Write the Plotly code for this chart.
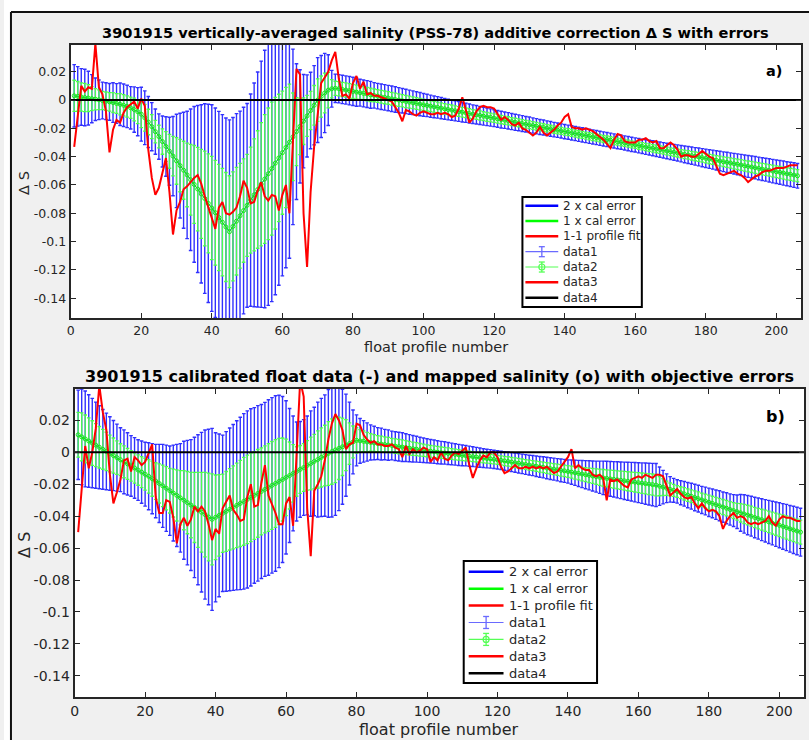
import plotly.graph_objects as go

W, H = 809, 740

profiles = list(range(1, 207))

# ---------------- panel a: vertically-averaged additive correction (1e-3 PSS-78) ----------------
fit_a = [
    3.0, 2.6, 2.2, 1.8, 1.4, 1.0, 0.6, 0.2, -0.3, -0.8,
    -1.3, -1.8, -2.4, -3.0, -3.7, -4.5, -5.5, -6.7, -8.2, -10.0,
    -12.5, -15.5, -18.8, -22.3, -25.8, -29.3, -32.8, -36.2, -39.6, -43.0,
    -46.3, -49.6, -52.9, -56.3, -59.6, -62.9, -66.3, -69.6, -73.0, -76.3,
    -79.6, -83.0, -86.3, -89.7, -93.0, -89.3, -85.6, -81.8, -78.1, -74.4,
    -70.7, -67.0, -63.2, -59.5, -55.8, -52.1, -48.4, -44.6, -40.9, -37.2,
    -33.5, -29.8, -26.0, -22.3, -18.6, -14.9, -11.2, -7.4, -3.7, 0.0,
    2.5, 5.0, 7.0, 8.0, 8.3, 8.0, 7.5, 7.1, 6.6, 6.1,
    5.6, 5.2, 4.7, 4.2, 3.7, 3.3, 2.8, 2.3, 1.9, 1.4,
    0.9, 0.4, 0.0, -0.5, -1.0, -1.5, -1.9, -2.4, -2.9, -3.4,
    -3.8, -4.3, -4.8, -5.2, -5.7, -6.2, -6.7, -7.1, -7.6, -8.1,
    -8.6, -9.0, -9.5, -10.0, -10.4, -10.9, -11.4, -11.9, -12.3, -12.8,
    -13.3, -13.8, -14.2, -14.7, -15.2, -15.7, -16.1, -16.6, -17.1, -17.5,
    -18.0, -18.5, -19.0, -19.4, -19.9, -20.4, -20.9, -21.3, -21.8, -22.3,
    -22.7, -23.2, -23.7, -24.2, -24.6, -25.1, -25.6, -26.1, -26.5, -27.0,
    -27.5, -27.9, -28.4, -28.9, -29.4, -29.8, -30.3, -30.8, -31.3, -31.7,
    -32.2, -32.7, -33.2, -33.6, -34.1, -34.6, -35.0, -35.5, -36.0, -36.5,
    -36.9, -37.4, -37.9, -38.4, -38.8, -39.3, -39.8, -40.2, -40.7, -41.2,
    -41.7, -42.1, -42.6, -43.1, -43.6, -44.0, -44.5, -45.0, -45.4, -45.9,
    -46.4, -46.9, -47.3, -47.8, -48.3, -48.8, -49.2, -49.7, -50.2, -50.7,
    -51.1, -51.6, -52.1, -52.5, -53.0, -53.5,
]
two_sigma_a = [
    22, 21, 20, 20, 19, 17, 15, 14, 13, 13,
    13, 14, 14, 15, 15, 15, 15, 16, 17, 19,
    19, 18, 17, 16, 16, 18, 21, 24, 28, 33,
    37, 41, 45, 50, 55, 59, 63, 67, 70, 73,
    74, 75, 76, 77, 79, 77, 76, 74, 73, 72,
    75, 79, 83, 87, 91, 93, 94, 93, 90, 87,
    85, 82, 62, 48, 40, 33, 29, 27, 28, 30,
    29, 28, 25, 13, 10, 10, 10, 10, 10, 10,
    10, 9.5, 9.5, 9.5, 9.5, 9, 9, 9, 9, 9,
    9, 9, 8.8, 8.7, 8.6, 8.5, 8.4, 8.3, 8.2, 8.0,
    7.9, 7.8, 7.7, 7.6, 7.5, 7.4, 7.3, 7.2, 7.1, 7.0,
    6.9, 6.8, 6.7, 6.6, 6.5, 6.4, 6.3, 6.2, 6.1, 6.0,
    5.9, 5.9, 5.8, 5.8, 5.7, 5.7, 5.6, 5.6, 5.5, 5.5,
    5.4, 5.4, 5.3, 5.3, 5.2, 5.2, 5.1, 5.1, 5.0, 5.0,
    5.0, 5.0, 5.0, 5.0, 5.0, 5.0, 5.0, 5.0, 5.0, 5.0,
    5.0, 5.0, 5.0, 5.0, 5.0, 5.0, 5.0, 5.0, 5.0, 5.0,
    5.1, 5.1, 5.2, 5.2, 5.3, 5.3, 5.4, 5.4, 5.5, 5.5,
    5.6, 5.7, 5.8, 5.9, 6.0, 6.1, 6.2, 6.3, 6.4, 6.5,
    6.6, 6.7, 6.8, 6.9, 7.0, 7.1, 7.2, 7.3, 7.4, 7.5,
    7.6, 7.7, 7.8, 7.9, 8.0, 8.0, 8.1, 8.2, 8.3, 8.3,
    8.4, 8.5, 8.5, 8.6, 8.7, 8.7,
]
profile_fit_a = [
    -33, -10, 10, 6, 9, 8, 40, 9, 4, -8,
    -37, -21, -14, -16, -9, -5, -3, -1, -6, 1,
    -4, -35, -55, -67, -62, -51, -41, -65, -95, -78,
    -72, -63, -61, -58, -55, -53, -59, -68, -76, -83,
    -91, -76, -72, -80, -81, -79, -76, -68, -57, -62,
    -73, -72, -64, -58, -68, -71, -67, -68, -78, -67,
    -60, -80, -25, 22, 18, -80, -118, -65, -33, -8,
    12, 16, 20, 28, 34, 15, 3, 4, 1, 12,
    17, 8, 13, 4, 5, 3, 3, 2, 1, 0,
    -1, -5, -9, -15, -7, -8, -10, -11, -9, -8,
    -9, -10, -10, -9, -10, -9, -10, -12, -11, -6,
    2, -8, -16, -13, -8, -5, -4, -5, -5, -6,
    -10, -14, -12, -14, -17, -18, -16, -20, -21, -23,
    -25, -23, -19, -23, -25, -23, -21, -18, -16, -12,
    -10, -19, -20, -20, -21, -20, -21, -22, -24, -26,
    -28, -31, -34, -28, -24, -25, -29, -30, -30, -30,
    -28, -28, -27, -29, -30, -29, -34, -34, -32, -30,
    -32, -35, -40, -39, -39, -40, -40, -38, -36, -38,
    -40, -41, -47, -52, -53, -52, -51, -50, -52, -53,
    -55, -58, -56, -54, -53, -51, -50, -50, -49, -48,
    -48, -48, -47, -46, -46, -46,
]

# ---------------- panel b: calibrated float data and mapped salinity (1e-3 PSS-78) ----------------
fit_b = [
    11.0, 9.7, 8.4, 7.1, 5.8, 4.5, 3.2, 1.9, 0.6, -0.7,
    -2.0, -3.3, -4.6, -5.9, -7.2, -8.5, -9.8, -11.1, -12.4, -13.7,
    -15.0, -16.5, -18.0, -19.5, -21.0, -22.5, -24.0, -25.5, -27.0, -28.5,
    -30.0, -31.5, -33.0, -34.5, -36.0, -37.5, -39.0, -40.5, -42.0, -40.7,
    -39.5, -38.2, -37.0, -35.7, -34.5, -33.2, -32.0, -30.7, -29.5, -28.2,
    -27.0, -25.7, -24.5, -23.2, -22.0, -20.7, -19.5, -18.2, -17.0, -15.7,
    -14.5, -13.2, -12.0, -10.7, -9.5, -8.2, -7.0, -5.7, -4.5, -3.2,
    -2.0, -0.7, 0.5, 1.5, 2.5, 3.5, 4.5, 5.5, 6.5, 7.5,
    7.2, 6.9, 6.5, 6.2, 5.9, 5.5, 5.2, 4.9, 4.6, 4.3,
    3.9, 3.6, 3.3, 3.0, 2.6, 2.3, 2.0, 1.6, 1.3, 1.0,
    0.7, 0.4, 0.1, -0.2, -0.4, -0.7, -1.0, -1.3, -1.6, -1.9,
    -2.1, -2.4, -2.7, -3.0, -3.3, -3.6, -3.9, -4.1, -4.4, -4.7,
    -5.0, -5.4, -5.7, -6.1, -6.5, -6.8, -7.2, -7.6, -8.0, -8.3,
    -8.7, -9.1, -9.4, -9.8, -10.2, -10.5, -10.9, -11.3, -11.6, -12.0,
    -12.4, -12.8, -13.2, -13.6, -14.0, -14.4, -14.8, -15.2, -15.6, -16.0,
    -16.3, -16.6, -16.9, -17.2, -17.5, -17.8, -18.1, -18.4, -18.7, -19.0,
    -19.3, -19.6, -19.9, -20.2, -20.5, -21.2, -21.8, -22.5, -23.2, -23.8,
    -24.5, -25.3, -26.0, -26.8, -27.5, -28.3, -29.0, -29.8, -30.5, -31.3,
    -32.0, -32.8, -33.5, -34.3, -35.0, -35.8, -36.5, -37.2, -37.9, -38.6,
    -39.3, -40.0, -40.8, -41.5, -42.2, -42.9, -43.6, -44.3, -45.0, -45.7,
    -46.4, -47.1, -47.9, -48.6, -49.3, -50.0,
]
two_sigma_b = [
    28, 30, 30, 29, 28, 27, 26, 25, 24, 23,
    22, 21, 20, 20, 19.5, 19, 19, 19, 19.5, 20,
    21, 22, 23, 24.5, 26, 27, 28, 30, 32, 34,
    37, 39, 41, 44, 47, 50, 53, 55, 57, 53,
    51, 49, 50, 51, 52, 53, 54, 55, 55.5, 55.5,
    55, 55, 54.5, 54.5, 55, 55, 55, 54, 52, 48,
    42, 36, 31, 30, 30, 31, 33, 34, 36, 37,
    38, 40, 41, 41, 39, 36, 32, 26, 20, 16,
    14, 13, 12, 11, 10.5, 10, 10, 9.5, 9.5, 9,
    9, 9, 9, 8.7, 8.5, 8.3, 8.1, 7.9, 7.7, 7.5,
    7.4, 7.3, 7.2, 7.1, 7.0, 6.9, 6.8, 6.7, 6.6, 6.5,
    6.4, 6.3, 6.2, 6.1, 6.0, 5.9, 5.8, 5.8, 5.7, 5.7,
    5.7, 5.8, 5.9, 6.0, 6.0, 6.1, 6.1, 6.2, 6.2, 6.3,
    6.4, 6.5, 6.6, 6.7, 6.8, 6.9, 7.0, 7.1, 7.2, 7.3,
    7.6, 7.9, 8.2, 8.5, 8.8, 9.1, 9.4, 9.7, 10.1, 10.5,
    10.7, 10.9, 11.1, 11.3, 11.5, 11.7, 11.9, 12.1, 12.3, 12.5,
    12.7, 12.9, 13.1, 13.3, 13.5, 12.0, 10.5, 9.0, 8.0, 7.5,
    7.3, 7.5, 7.7, 7.9, 8.1, 8.3, 8.4, 8.5, 8.7, 8.9,
    9.0, 9.2, 9.4, 9.5, 9.7, 9.8, 10.0, 10.5, 11.5, 12.0,
    12.3, 12.5, 12.7, 12.9, 13.1, 13.3, 13.5, 13.7, 13.9, 14.1,
    14.3, 14.5, 14.6, 14.8, 14.9, 15.0,
]
profile_fit_b = [
    -50, -23, 4, -10, 0, 15, 42, 25, 14, -14,
    -32, -25, -17, -5, -4, -12, -3, -5, -8, -6,
    -1, 5, -28, -38, -38, -30, -31, -41, -57, -45,
    -41, -46, -42, -34, -37, -34, -37, -45, -55, -48,
    -51, -35, -31, -27, -36, -39, -43, -42, -28, -20,
    -34, -33, -19, -8, -27, -32, -38, -45, -45, -32,
    -28, -46, 0, 45, 35, -35, -65, -24, -20, -15,
    -5, 8, 18, 24, 20, 14, 2, 5, 6, 18,
    17, 11, 8, 6, 7, 5, 5, 4, 4, 5,
    3, 2, -3, 4, -1, 2, 0, 1, 3, 2,
    -6, -3, -5, 0, -4, -5, -2, 0, -1, 1,
    3, -8, -16, -10, -5, -2, -3, 0, 0, -3,
    -9, -13, -12, -10, -8, -10, -10, -9, -10, -9,
    -10, -9, -10, -9, -11, -13, -12, -9, -6, -3,
    2, -10, -8, -10, -11, -11, -14, -15, -14, -16,
    -30, -17, -18, -17, -19, -21, -22, -17, -16, -15,
    -16, -14, -15, -16, -14, -14, -15, -21, -27, -25,
    -23, -26, -28, -29, -28, -32, -35, -32, -35, -37,
    -36, -37, -40, -48, -43, -40, -38, -41, -40, -41,
    -44, -45, -44, -45, -44, -43, -40, -44, -46, -42,
    -40, -41, -41, -42, -43, -43,
]

# reference (zero correction) line across the profile axis
zero_x = [0, 207]
zero_y = [0.0, 0.0]

x_ticks = [0, 20, 40, 60, 80, 100, 120, 140, 160, 180, 200]
y_ticks = [0.02, 0.0, -0.02, -0.04, -0.06, -0.08, -0.10, -0.12, -0.14]
y_tick_text = ["0.02", "0", "-0.02", "-0.04", "-0.06", "-0.08", "-0.1", "-0.12", "-0.14"]
legend_labels = ["2 x cal error", "1 x cal error", "1-1 profile fit",
                 "data1", "data2", "data3", "data4"]
titles = [
    "3901915 vertically-averaged salinity (PSS-78) additive correction \u0394 S with errors",
    "3901915 calibrated float data (-) and mapped salinity (o) with objective errors",
]
x_label = "float profile number"
y_label = "\u0394 S"
panel_tags = ["a)", "b)"]

FONT = "DejaVu Sans"
INK = "#262626"


def fx(px):
    return px / W


def fy(py):
    return 1 - py / H


panels = [
    dict(data=(fit_a, two_sigma_a, profile_fit_a), box=(67, 45, 801, 318),
         yrange=(-0.154, 0.0389), tick_size=12.5, label_size=14.5, title_size=14.6,
         title_y=33, xlabel_y=347, ylabel_xy=(20, 183), tag_xy=(774, 71),
         legend_box=(521, 197, 641, 307), legend_row0=205.7, legend_dy=15.33,
         legend_line=(524, 557), legend_text_x=560, legend_size=12, glyph=5),
    dict(data=(fit_b, two_sigma_b, profile_fit_b), box=(71, 389, 804, 697),
         yrange=(-0.1533, 0.0397), tick_size=14, label_size=16, title_size=16,
         title_y=376, xlabel_y=729, ylabel_xy=(20, 545), tag_xy=(775, 416),
         legend_box=(462, 561, 596, 683), legend_row0=571.7, legend_dy=16.93,
         legend_line=(467, 502), legend_text_x=506, legend_size=13, glyph=6),
]

fig = go.Figure()
shapes = []
annotations = []
layout_axes = {}

# figure frame: white surround with a dark border line
shapes.append(dict(type="rect", xref="paper", yref="paper", x0=0, x1=fx(7), y0=0, y1=1,
                   fillcolor="white", line=dict(width=0), layer="below"))
shapes.append(dict(type="rect", xref="paper", yref="paper", x0=0, x1=1, y0=fy(12), y1=1,
                   fillcolor="white", line=dict(width=0), layer="below"))
shapes.append(dict(type="line", xref="paper", yref="paper", x0=fx(7), x1=fx(7), y0=0, y1=fy(12),
                   line=dict(color="#111", width=2)))
shapes.append(dict(type="line", xref="paper", yref="paper", x0=fx(7), x1=1, y0=fy(12), y1=fy(12),
                   line=dict(color="#111", width=2)))

legend_styles = [
    ("#0000ff", 2.5, None),
    ("#00ff00", 2.5, None),
    ("#ff0000", 2.5, None),
    ("#6a6aff", 1.2, "bar"),
    ("#55ff55", 1.2, "circle"),
    ("#ff0000", 2.5, None),
    ("#000000", 2.5, None),
]

for i, pan in enumerate(panels):
    sfx = "" if i == 0 else str(i + 1)
    xa, ya = "x" + sfx, "y" + sfx
    center, two_sig, fit = pan["data"]
    c = [v / 1000 for v in center]
    e2 = [v / 1000 for v in two_sig]
    e1 = [v / 2000 for v in two_sig]
    f = [v / 1000 for v in fit]

    # 2 x cal error bars
    fig.add_trace(go.Scatter(
        x=profiles, y=c, mode="lines", xaxis=xa, yaxis=ya, showlegend=False,
        line=dict(color="#2b2bff", width=1),
        error_y=dict(type="data", array=e2, color="#3030ff", thickness=1.4, width=1.8)))
    # 1 x cal error bars with mapped points
    fig.add_trace(go.Scatter(
        x=profiles, y=c, mode="lines+markers", xaxis=xa, yaxis=ya, showlegend=False,
        line=dict(color="#18e818", width=1),
        marker=dict(symbol="circle-open", size=4, color="#18e818", line=dict(width=1)),
        error_y=dict(type="data", array=e1, color="#4cff4c", thickness=1.3, width=1.8)))
    # 1-1 profile fit
    fig.add_trace(go.Scatter(
        x=profiles, y=f, mode="lines", xaxis=xa, yaxis=ya, showlegend=False,
        line=dict(color="#ff0000", width=2)))
    # zero line
    fig.add_trace(go.Scatter(
        x=zero_x, y=zero_y, mode="lines", xaxis=xa, yaxis=ya, showlegend=False,
        line=dict(color="#000000", width=2)))

    l, t, r, b = pan["box"]
    common = dict(showline=True, linecolor=INK, linewidth=2, mirror="allticks",
                  ticks="inside", ticklen=5, tickwidth=1.3, tickcolor=INK,
                  showgrid=False, zeroline=False,
                  tickfont=dict(family=FONT, size=pan["tick_size"], color=INK))
    layout_axes["xaxis" + sfx] = dict(domain=[fx(l), fx(r)], range=[0, 207], anchor=ya,
                                      tickvals=x_ticks, **common)
    layout_axes["yaxis" + sfx] = dict(domain=[fy(b), fy(t)], range=list(pan["yrange"]),
                                      anchor=xa, tickvals=y_ticks, ticktext=y_tick_text,
                                      **common)

    cx = (l + r) / 2
    annotations.append(dict(text="<b>" + titles[i] + "</b>", xref="paper", yref="paper",
                            x=fx(cx), y=fy(pan["title_y"]), showarrow=False,
                            xanchor="center", yanchor="middle",
                            font=dict(family=FONT, size=pan["title_size"], color="#000")))
    annotations.append(dict(text=x_label, xref="paper", yref="paper",
                            x=fx(cx), y=fy(pan["xlabel_y"]), showarrow=False,
                            xanchor="center", yanchor="middle",
                            font=dict(family=FONT, size=pan["label_size"], color=INK)))
    yx, yy = pan["ylabel_xy"]
    annotations.append(dict(text=y_label, xref="paper", yref="paper", textangle=-90,
                            x=fx(yx), y=fy(yy), showarrow=False,
                            xanchor="center", yanchor="middle",
                            font=dict(family=FONT, size=pan["label_size"], color=INK)))
    tx, ty = pan["tag_xy"]
    annotations.append(dict(text="<b>" + panel_tags[i] + "</b>", xref="paper", yref="paper",
                            x=fx(tx), y=fy(ty), showarrow=False,
                            xanchor="center", yanchor="middle",
                            font=dict(family=FONT, size=pan["label_size"], color="#000")))

    # legend box
    bx0, by0, bx1, by1 = pan["legend_box"]
    shapes.append(dict(type="rect", xref="paper", yref="paper", x0=fx(bx0), x1=fx(bx1),
                       y0=fy(by1), y1=fy(by0), fillcolor="white",
                       line=dict(color="#000", width=2), layer="above"))
    lx0, lx1 = pan["legend_line"]
    mx = (lx0 + lx1) / 2
    g = pan["glyph"]
    for k, (label, (col, lw, glyph)) in enumerate(zip(legend_labels, legend_styles)):
        ry = pan["legend_row0"] + k * pan["legend_dy"]
        shapes.append(dict(type="line", xref="paper", yref="paper", x0=fx(lx0), x1=fx(lx1),
                           y0=fy(ry), y1=fy(ry), line=dict(color=col, width=lw), layer="above"))
        if glyph is not None:
            shapes.append(dict(type="line", xref="paper", yref="paper", x0=fx(mx), x1=fx(mx),
                               y0=fy(ry - g), y1=fy(ry + g), line=dict(color=col, width=1.3),
                               layer="above"))
            for yy_ in (ry - g, ry + g):
                shapes.append(dict(type="line", xref="paper", yref="paper", x0=fx(mx - 3),
                                   x1=fx(mx + 3), y0=fy(yy_), y1=fy(yy_),
                                   line=dict(color=col, width=1.3), layer="above"))
            if glyph == "circle":
                shapes.append(dict(type="circle", xref="paper", yref="paper", x0=fx(mx - 3),
                                   x1=fx(mx + 3), y0=fy(ry + 3), y1=fy(ry - 3),
                                   line=dict(color=col, width=1.2), layer="above"))
        annotations.append(dict(text=label, xref="paper", yref="paper",
                                x=fx(pan["legend_text_x"]), y=fy(ry), showarrow=False,
                                xanchor="left", yanchor="middle",
                                font=dict(family=FONT, size=pan["legend_size"], color=INK)))

fig.update_layout(
    width=W, height=H, margin=dict(l=0, r=0, t=0, b=0),
    paper_bgcolor="#f0f0f0", plot_bgcolor="white",
    showlegend=False, shapes=shapes, annotations=annotations, **layout_axes)

fig.write_html("out.html")
